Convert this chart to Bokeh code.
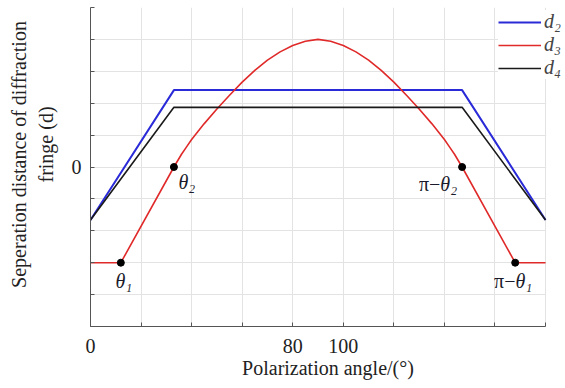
from bokeh.plotting import figure
from bokeh.models import FixedTicker, Legend, LegendItem, Range1d, BoxAnnotation
from bokeh.embed import file_html
from bokeh.resources import INLINE
from bokeh.core.properties import value

# ---- data ----
angle_d2 = [0, 33, 147, 180]
d2 = [-1.66, 2.41, 2.41, -1.66]

angle_d4 = [0, 33, 147, 180]
d4 = [-1.66, 1.87, 1.87, -1.66]

angle_d3 = [0, 12, 33, 36, 38, 40, 45, 50, 55, 60, 65, 70, 75, 80, 85, 90,
            95, 100, 105, 110, 115, 120, 125, 130, 135, 140, 142, 144, 147, 168, 180]
d3 = [-3, -3, 0, 0.40, 0.63, 0.86, 1.36, 1.82, 2.25, 2.66, 3.03, 3.35, 3.61, 3.81, 3.94, 4.0,
      3.94, 3.81, 3.61, 3.35, 3.03, 2.66, 2.25, 1.82, 1.36, 0.86, 0.63, 0.40, 0, -3, -3]

marker_angle = [12, 33, 147, 168]
marker_d = [-3, 0, 0, -3]

theta_text = ["θ₁", "θ₂", "θ₂", "θ₁"]
theta_x = [9.9, 34.8, 138.4, 168.1]
theta_y = [-3.57, -0.47, -0.53, -3.57]

pi_text = ["π−", "π−"]
pi_x = [138.4, 168.1]
pi_y = [-0.53, -3.57]

x_ticks = [0, 20, 40, 60, 80, 100, 120, 140, 160, 180]
x_tick_labels = {0: "0", 80: "80", 100: "100"}
y_ticks = [-5, -4, -3, -2, -1, 0, 1, 2, 3, 4, 5]
y_tick_labels = {0: "0"}

series_labels = ["d₂", "d₃", "d₄"]

FONT = "Liberation Serif"
X_MAX = 180
X_VIEW_END = 187.9   # room on the right for the legend (no data there)

p = figure(width=565, height=388, x_range=Range1d(0, X_VIEW_END), y_range=Range1d(-5, 5),
           output_backend="svg", toolbar_location=None,
           min_border_left=90, min_border_right=0, min_border_top=7, min_border_bottom=62)
p.outline_line_color = None
p.background_fill_color = "white"
p.border_fill_color = "white"

for ax, ticks, labels in ((p.xaxis[0], x_ticks, x_tick_labels), (p.yaxis[0], y_ticks, y_tick_labels)):
    ax.ticker = FixedTicker(ticks=ticks)
    ax.major_label_overrides = {t: labels.get(t, "") for t in ticks}
    ax.major_tick_in = 4
    ax.major_tick_out = 0
    ax.minor_tick_line_color = None
    ax.axis_line_color = "#555555"
    ax.major_tick_line_color = "#555555"
    ax.major_label_text_font = FONT
    ax.major_label_text_font_size = "20px"
    ax.major_label_text_color = "#222222"
    ax.axis_label_text_font = FONT
    ax.axis_label_text_font_size = "20px"
    ax.axis_label_text_font_style = "normal"
    ax.axis_label_text_color = "#222222"

p.xaxis.bounds = (0, X_MAX)
p.xaxis.axis_label = "Polarization angle/(°)"
p.xaxis.major_label_standoff = 12
p.xaxis.axis_label_standoff = 1
p.yaxis.axis_label = "\u00a0" * 5 + "Seperation distance of diffraction\n" + "\u00a0" * 9 + "fringe (d)"
p.yaxis.major_label_standoff = 9
p.yaxis.axis_label_standoff = 12

p.grid.grid_line_color = "#e3e3e3"
p.grid.grid_line_width = 1

# white strip hiding the grid beyond the last angle (legend area)
mask = BoxAnnotation(left=X_MAX + 0.25, fill_color="white", fill_alpha=1,
                     line_color=None, level="underlay")
p.add_layout(mask)

r2 = p.line(angle_d2, d2, line_color="#2a2ad8", line_width=2)
r3 = p.line(angle_d3, d3, line_color="#e02a2a", line_width=1.6)
r4 = p.line(angle_d4, d4, line_color="#1a1a1a", line_width=1.6)

p.scatter(marker_angle, marker_d, size=7, color="black")

p.text(x=theta_x, y=theta_y, text=theta_text, text_font=value(FONT),
       text_font_style="italic", text_font_size="20px", text_align="left",
       text_baseline="middle", text_color="#1a1a2a")
p.text(x=pi_x, y=pi_y, text=pi_text, text_font=value(FONT),
       text_font_style="normal", text_font_size="20px", text_align="right",
       text_baseline="middle", text_color="#1a1a2a")

legend = Legend(items=[LegendItem(label=series_labels[0], renderers=[r2]),
                       LegendItem(label=series_labels[1], renderers=[r3]),
                       LegendItem(label=series_labels[2], renderers=[r4])],
                location=(408, 247))
legend.label_text_font = FONT
legend.label_text_font_style = "italic"
legend.label_text_font_size = "20px"
legend.glyph_width = 43
legend.glyph_height = 20
legend.label_standoff = 3
legend.spacing = -2
legend.padding = 0
legend.margin = 0
legend.border_line_color = None
legend.background_fill_color = "white"
legend.background_fill_alpha = 1
p.add_layout(legend, "center")

open("out.html", "w").write(file_html(p, INLINE))
